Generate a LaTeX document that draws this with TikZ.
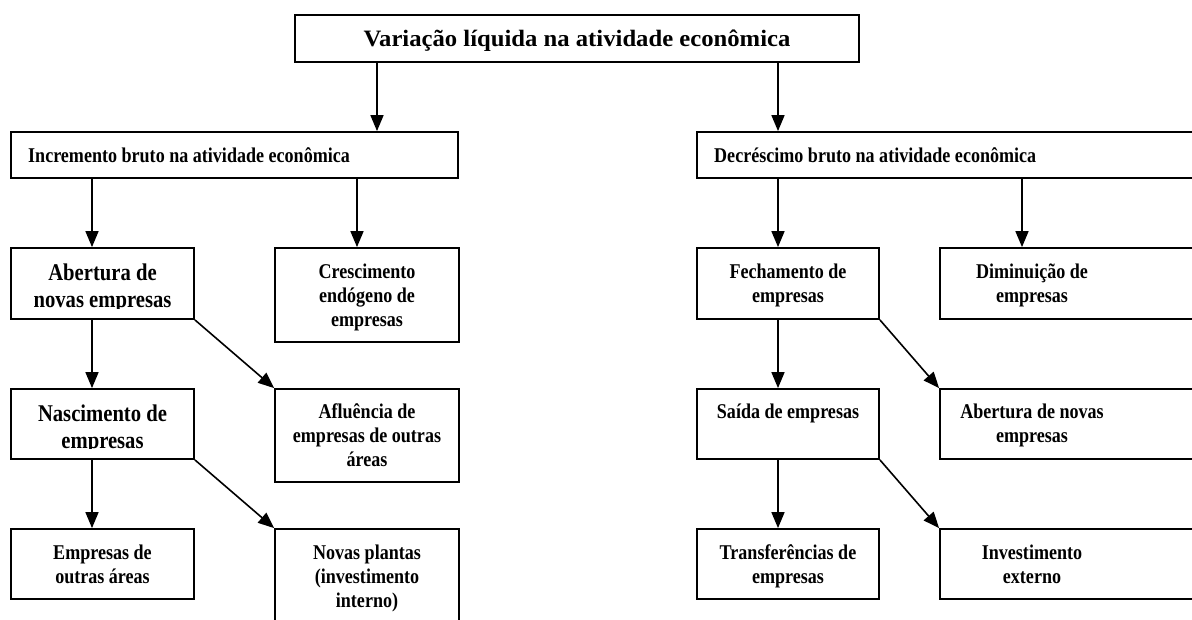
\documentclass[tikz,border=0pt]{standalone}
\usepackage{fontspec}
\setmainfont{Liberation Serif}
\newfontfamily\condf{Liberation Serif}[FakeStretch=0.86]
\newfontfamily\widef{Liberation Serif}[FakeStretch=1.05]
\usetikzlibrary{arrows.meta}
\begin{document}
\begin{tikzpicture}[x=1pt,y=-1pt,
  box/.style={draw,line width=1.8pt,inner sep=0pt},
  txt/.style={align=center,inner sep=0pt,anchor=base,font=\condf\bfseries\fontsize{21}{24}\selectfont},
  bigtxt/.style={align=center,inner sep=0pt,anchor=base,font=\condf\bfseries\fontsize{24}{27}\selectfont},
  arr/.style={line width=1.6pt,-{Triangle[length=16pt,width=13pt]}}]
\useasboundingbox (0,0) rectangle (1192,619);
\fill[white] (0,0) rectangle (1192,619);
\clip (0,0) rectangle (1192,619);

% boxes
\node[box,minimum width=564pt,minimum height=47pt] (top) at (577,38.5) {};
\node[box,minimum width=447pt,minimum height=46pt] (incr) at (234.5,155) {};
\node[box,minimum width=518pt,minimum height=46pt] (decr) at (956,155) {};
\node[box,minimum width=183pt,minimum height=71pt] (abert) at (102.5,283.5) {};
\node[box,minimum width=184pt,minimum height=94pt] (cresc) at (367,295) {};
\node[box,minimum width=182pt,minimum height=71pt] (fech) at (788,283.5) {};
\node[box,minimum width=275pt,minimum height=71pt] (dimin) at (1077.5,283.5) {};
\node[box,minimum width=183pt,minimum height=70pt] (nasc) at (102.5,424) {};
\node[box,minimum width=184pt,minimum height=93pt] (aflu) at (367,435.5) {};
\node[box,minimum width=182pt,minimum height=70pt] (saida) at (788,424) {};
\node[box,minimum width=275pt,minimum height=70pt] (abnov) at (1077.5,424) {};
\node[box,minimum width=183pt,minimum height=70pt] (emp) at (102.5,564) {};
\node[box,minimum width=184pt,minimum height=111pt] (novas) at (367,584.5) {};
\node[box,minimum width=182pt,minimum height=70pt] (transf) at (788,564) {};
\node[box,minimum width=275pt,minimum height=70pt] (invest) at (1077.5,564) {};

% texts (base anchor = baseline of the last line)
\node[inner sep=0pt,anchor=base,font=\widef\bfseries\fontsize{23.5}{27}\selectfont] (ttop) at (577,46.7) {Variação líquida na atividade econômica};
\node[txt,anchor=base west] (tincr) at (28,162.3) {Incremento bruto na atividade econômica};
\node[txt,anchor=base west] (tdecr) at (714,162.3) {Decréscimo bruto na atividade econômica};
\begin{scope}
  \clip (11,248) rectangle (194,308);
  \node[bigtxt] (tabert) at (102.5,307) {Abertura de\\novas empresas};
\end{scope}
\begin{scope}
  \clip (11,389) rectangle (194,448.5);
  \node[bigtxt] (tnasc) at (102.5,448) {Nascimento de\\empresas};
\end{scope}
\node[txt] (tcresc) at (367,326.3) {Crescimento\\endógeno de\\empresas};
\node[txt] (tfech) at (788,302.3) {Fechamento de\\empresas};
\node[txt] (tdimin) at (1032,302.3) {Diminuição de\\empresas};
\node[txt] (taflu) at (367,466.3) {Afluência de\\empresas de outras\\áreas};
\node[txt] (tsaida) at (788,418.3) {Saída de empresas};
\node[txt] (tabnov) at (1032,442.3) {Abertura de novas\\empresas};
\node[txt] (temp) at (102.5,583) {Empresas de\\outras áreas};
\node[txt] (tnovas) at (367,607) {Novas plantas\\(investimento\\interno)};
\node[txt] (ttransf) at (788,583) {Transferências de\\empresas};
\node[txt] (tinvest) at (1032,583) {Investimento\\externo};

% arrows
\draw[arr] ([xshift=-200pt]top.south) -- ([xshift=142.5pt]incr.north);
\draw[arr] ([xshift=201pt]top.south) -- ([xshift=-178pt]decr.north);
\draw[arr] ([xshift=-142.5pt]incr.south) -- ([xshift=-10.5pt]abert.north);
\draw[arr] ([xshift=122.5pt]incr.south) -- ([xshift=-10pt]cresc.north);
\draw[arr] ([xshift=-178pt]decr.south) -- ([xshift=-10pt]fech.north);
\draw[arr] ([xshift=66pt]decr.south) -- ([xshift=-55.5pt]dimin.north);
\draw[arr] ([xshift=-10.5pt]abert.south) -- ([xshift=-10.5pt]nasc.north);
\draw[arr] ([xshift=-10.5pt]nasc.south) -- ([xshift=-10.5pt]emp.north);
\draw[arr] ([xshift=-10pt]fech.south) -- ([xshift=-10pt]saida.north);
\draw[arr] ([xshift=-10pt]saida.south) -- ([xshift=-10pt]transf.north);
\draw[arr] (abert.south east) -- (aflu.north west);
\draw[arr] (nasc.south east) -- (novas.north west);
\draw[arr] (fech.south east) -- (abnov.north west);
\draw[arr] (saida.south east) -- (invest.north west);
\end{tikzpicture}
\end{document}
